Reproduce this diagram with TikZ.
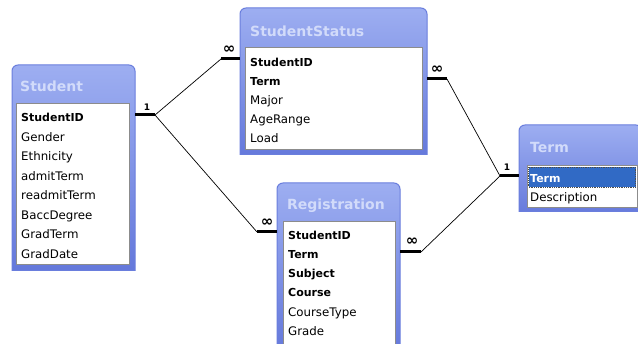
\documentclass[tikz,border=0pt]{standalone}
\usepackage{fontspec}
\setmainfont{DejaVu Sans}
\definecolor{boxtop}{HTML}{9DAEF1}
\definecolor{boxbot}{HTML}{6276DA}
\definecolor{boxedge}{HTML}{6A7EDD}
\definecolor{titlecol}{HTML}{D2DBFA}
\definecolor{selcol}{HTML}{316AC5}
\newcommand\tablebox[4]{%
  \begin{scope}
    \clip (#1-2,#2-2) rectangle (#3+2,#4);
    \shade[top color=boxtop,bottom color=boxbot,draw=boxedge,line width=1pt,rounded corners=6pt] (#1,#2) rectangle (#3,#4+8);
  \end{scope}
  \draw[boxedge,line width=1pt] (#1,#4) -- (#3,#4);}
\begin{document}
\begin{tikzpicture}[x=1pt,y=-1pt,
  ttl/.style={font=\fontsize{14}{14}\selectfont\bfseries,text=titlecol,anchor=base west,inner sep=0},
  fld/.style={font=\fontsize{11.8}{12}\selectfont,anchor=base west,inner sep=0},
  key/.style={font=\fontsize{11}{12}\selectfont\bfseries,anchor=base west,inner sep=0},
  inner/.style={fill=white,draw=black!45,line width=0.8pt},
  stub/.style={line width=3pt},
  rel/.style={line width=0.7pt},
  card/.style={font=\fontsize{9}{9}\selectfont\bfseries,inner sep=0},
  many/.style={font=\fontsize{15}{15}\selectfont\bfseries,inner sep=0}]
\useasboundingbox (0,0) rectangle (638,344);
\fill[white] (0,0) rectangle (638,344);
% ---------- Student
\tablebox{12}{65}{135}{271}
\node[ttl] (t-student) at (20,92) {Student};
\draw[inner] (16,103) rectangle (129,264);
\node[key] (s1) at (21,121.5) {StudentID};
\node[fld] (s2) at (21,141.5) {Gender};
\node[fld] (s3) at (21,161) {Ethnicity};
\node[fld] (s4) at (21,180.5) {admitTerm};
\node[fld] (s5) at (21,200) {readmitTerm};
\node[fld] (s6) at (21,219.5) {BaccDegree};
\node[fld] (s7) at (21,239) {GradTerm};
\node[fld] (s8) at (21,258.5) {GradDate};
% ---------- StudentStatus
\tablebox{240}{8}{427}{155}
\node[ttl] (t-ss) at (250,37) {StudentStatus};
\draw[inner] (245,47) rectangle (422,149);
\node[key] (ss1) at (250,66.5) {StudentID};
\node[key] (ss2) at (250,85.5) {Term};
\node[fld] (ss3) at (250,104.5) {Major};
\node[fld] (ss4) at (250,123.5) {AgeRange};
\node[fld] (ss5) at (250,142.5) {Load};
% ---------- Registration
\tablebox{277}{183}{400}{352}
\node[ttl] (t-reg) at (287,210) {Registration};
\draw[inner] (283,221) rectangle (395,352);
\node[key] (r1) at (288,239.5) {StudentID};
\node[key] (r2) at (288,258.5) {Term};
\node[key] (r3) at (288,277.5) {Subject};
\node[key] (r4) at (288,296.5) {Course};
\node[fld] (r5) at (288,316.5) {CourseType};
\node[fld] (r6) at (288,335.5) {Grade};
% ---------- Term
\tablebox{519}{125}{642}{212}
\node[ttl] (t-term) at (530,153) {Term};
\draw[inner] (527,165) rectangle (637,207);
\fill[selcol] (528.5,167.5) rectangle (635.5,187);
\draw[densely dotted,black!70,line width=0.8pt] (528.5,167.5) rectangle (635.5,187);
\node[key,text=white] (tm1) at (530,182.5) {Term};
\node[fld] (tm2) at (530,201.5) {Description};
% ---------- connector points
\coordinate (stud-r) at (135,115);
\coordinate (j1) at (155,115);
\coordinate (ss-lj) at (221,59);
\coordinate (ss-l) at (240,59);
\coordinate (reg-lj) at (257,232);
\coordinate (reg-l) at (277,232);
\coordinate (ss-r) at (427,79);
\coordinate (ss-rj) at (447,79);
\coordinate (j2) at (500,176);
\coordinate (term-l) at (519,176);
\coordinate (reg-r) at (400,252);
\coordinate (reg-rj) at (421,252);
% ---------- connectors
\draw[stub] (stud-r) -- (j1);
\draw[rel] (j1) -- (ss-lj);
\draw[stub] (ss-lj) -- (ss-l);
\draw[rel] (j1) -- (reg-lj);
\draw[stub] (reg-lj) -- (reg-l);
\draw[stub] (ss-r) -- (ss-rj);
\draw[rel] (ss-rj) -- (j2);
\draw[stub] (j2) -- (term-l);
\draw[stub] (reg-r) -- (reg-rj);
\draw[rel] (reg-rj) -- (j2);
% ---------- cardinalities
\node[card] (c1) at (147,107) {1};
\node[many] (c2) at (229,50) {∞};
\node[many] (c3) at (267,223) {∞};
\node[many] (c4) at (437,70) {∞};
\node[card] (c5) at (507,167) {1};
\node[many] (c6) at (412,242) {∞};
\end{tikzpicture}
\end{document}
